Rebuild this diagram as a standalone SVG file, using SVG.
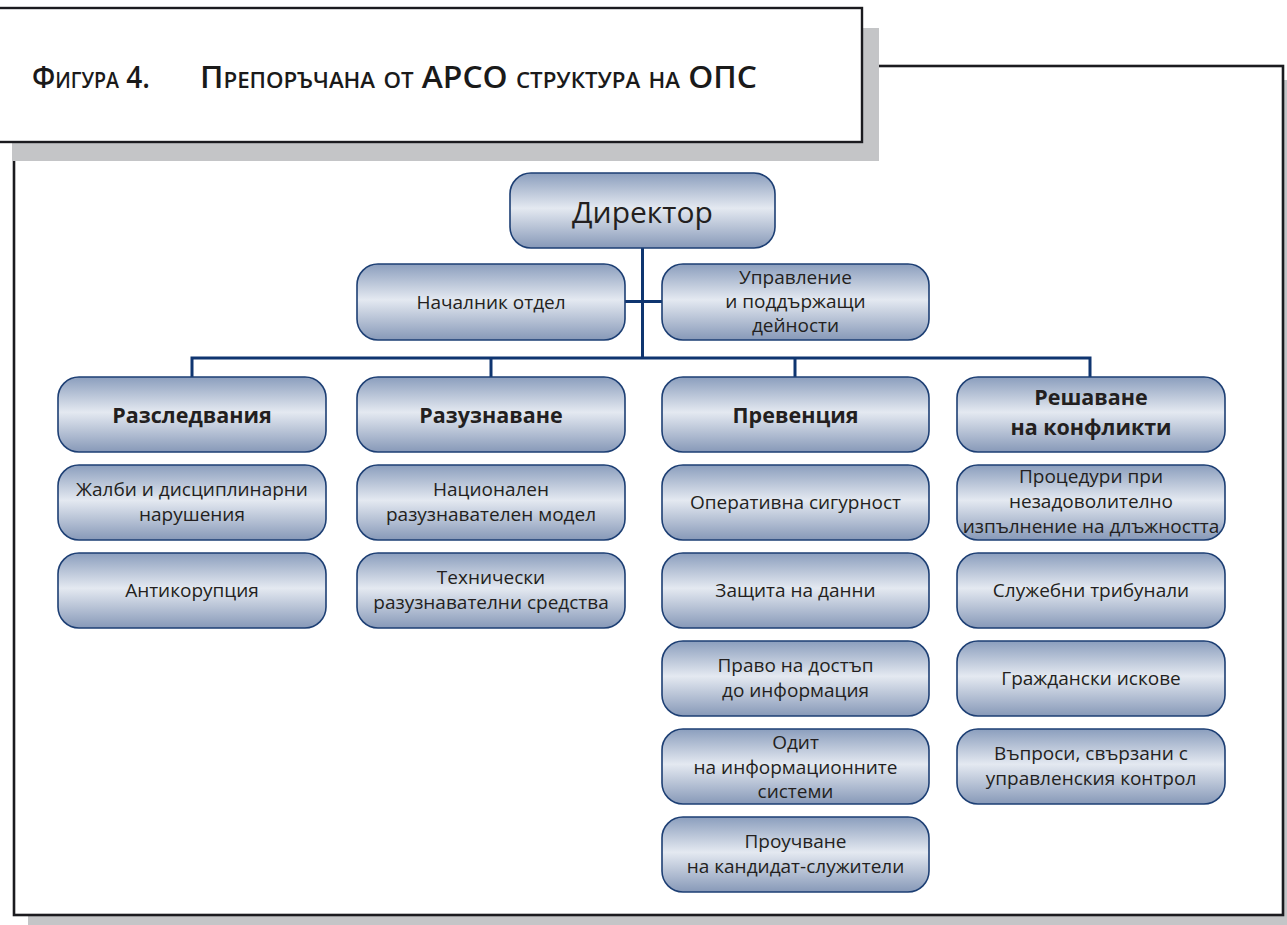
<svg xmlns="http://www.w3.org/2000/svg" width="1287" height="925" viewBox="0 0 1287 925">
<defs>
<linearGradient id="g" x1="0" y1="0" x2="0" y2="1">
<stop offset="0" stop-color="#8b9ebd"/>
<stop offset="0.47" stop-color="#e4e9f1"/>
<stop offset="1" stop-color="#8799b8"/>
</linearGradient>
<style>
.box{fill:url(#g);stroke:#1d3f74;stroke-width:1.6}
.t{font-family:"Open Sans","Noto Sans",sans-serif;font-size:19px;fill:#231f20;text-anchor:middle}
.b{font-family:"Open Sans","Noto Sans",sans-serif;font-size:21.5px;font-weight:bold;fill:#231f20;text-anchor:middle}
.con{stroke:#0f3570;stroke-width:3;fill:none}
.title{font-family:"Open Sans","Noto Sans",sans-serif;font-size:30px;font-weight:600;font-variant:small-caps;fill:#1a1a1a}
</style>
</defs>
<rect width="1287" height="925" fill="#ffffff"/>
<rect x="28" y="80" width="1270" height="860" fill="#c4c5c7"/>
<rect x="14" y="66" width="1269" height="849" fill="#ffffff" stroke="#1b1b1f" stroke-width="2.6"/>
<rect x="12" y="28" width="867" height="133" fill="#c4c5c7"/>
<rect x="-4" y="8" width="866" height="134" fill="#ffffff" stroke="#1b1b1f" stroke-width="2.4"/>
<text class="title" x="32" y="88" textLength="118" lengthAdjust="spacingAndGlyphs">Фигура 4.</text>
<text class="title" x="200" y="88" textLength="557" lengthAdjust="spacingAndGlyphs">Препоръчана от АРСО структура на ОПС</text>

<g id="connectors">
<path class="con" d="M642.5 248 V358"/>
<path class="con" d="M625 301.5 H662"/>
<path class="con" d="M192 377 V358 H1090 V377"/>
<path class="con" d="M491 358 V377"/>
<path class="con" d="M795 358 V377"/>
</g>

<g id="n-director"><rect class="box" x="510" y="173" width="265" height="75" rx="21"/><text class="t" x="642.5" y="223" style="font-size:30px">Директор</text></g>
<g id="n-nachalnik"><rect class="box" x="357" y="264" width="268" height="76" rx="21"/><text class="t" x="491" y="309">Началник отдел</text></g>
<g id="n-upravlenie"><rect class="box" x="662" y="264" width="267" height="76" rx="21"/><text class="t" x="795.5" y="284">Управление</text><text class="t" x="795.5" y="308">и поддържащи</text><text class="t" x="795.5" y="332">дейности</text></g>

<g id="n-razsledvania"><rect class="box" x="58" y="377" width="268" height="75" rx="21"/><text class="b" x="192" y="423">Разследвания</text></g>
<g id="n-razuznavane"><rect class="box" x="357" y="377" width="268" height="75" rx="21"/><text class="b" x="491" y="423">Разузнаване</text></g>
<g id="n-preventsia"><rect class="box" x="662" y="377" width="267" height="75" rx="21"/><text class="b" x="795.5" y="423">Превенция</text></g>
<g id="n-reshavane"><rect class="box" x="957" y="377" width="268" height="75" rx="21"/><text class="b" x="1091" y="405">Решаване</text><text class="b" x="1091" y="435">на конфликти</text></g>

<g id="n-zhalbi"><rect class="box" x="58" y="465" width="268" height="75" rx="21"/><text class="t" x="192" y="496">Жалби и дисциплинарни</text><text class="t" x="192" y="521">нарушения</text></g>
<g id="n-antikoruptsia"><rect class="box" x="58" y="553" width="268" height="75" rx="21"/><text class="t" x="192" y="597">Антикорупция</text></g>

<g id="n-natsionalen"><rect class="box" x="357" y="465" width="268" height="75" rx="21"/><text class="t" x="491" y="496">Национален</text><text class="t" x="491" y="521">разузнавателен модел</text></g>
<g id="n-tehnicheski"><rect class="box" x="357" y="553" width="268" height="75" rx="21"/><text class="t" x="491" y="584">Технически</text><text class="t" x="491" y="609">разузнавателни средства</text></g>

<g id="n-operativna"><rect class="box" x="662" y="465" width="267" height="75" rx="21"/><text class="t" x="795.5" y="509">Оперативна сигурност</text></g>
<g id="n-zashtita"><rect class="box" x="662" y="553" width="267" height="75" rx="21"/><text class="t" x="795.5" y="597">Защита на данни</text></g>
<g id="n-pravo"><rect class="box" x="662" y="641" width="267" height="75" rx="21"/><text class="t" x="795.5" y="672">Право на достъп</text><text class="t" x="795.5" y="697">до информация</text></g>
<g id="n-odit"><rect class="box" x="662" y="729" width="267" height="75" rx="21"/><text class="t" x="795.5" y="749">Одит</text><text class="t" x="795.5" y="774">на информационните</text><text class="t" x="795.5" y="798">системи</text></g>
<g id="n-prouchvane"><rect class="box" x="662" y="817" width="267" height="75" rx="21"/><text class="t" x="795.5" y="848">Проучване</text><text class="t" x="795.5" y="873">на кандидат-служители</text></g>

<g id="n-protseduri"><rect class="box" x="957" y="465" width="268" height="75" rx="21"/><text class="t" x="1091" y="483">Процедури при</text><text class="t" x="1091" y="508">незадоволително</text><text class="t" x="1091" y="533">изпълнение на длъжността</text></g>
<g id="n-sluzhebni"><rect class="box" x="957" y="553" width="268" height="75" rx="21"/><text class="t" x="1091" y="597">Служебни трибунали</text></g>
<g id="n-grazhdanski"><rect class="box" x="957" y="641" width="268" height="75" rx="21"/><text class="t" x="1091" y="685">Граждански искове</text></g>
<g id="n-vaprosi"><rect class="box" x="957" y="729" width="268" height="75" rx="21"/><text class="t" x="1091" y="760">Въпроси, свързани с</text><text class="t" x="1091" y="785">управленския контрол</text></g>
</svg>
